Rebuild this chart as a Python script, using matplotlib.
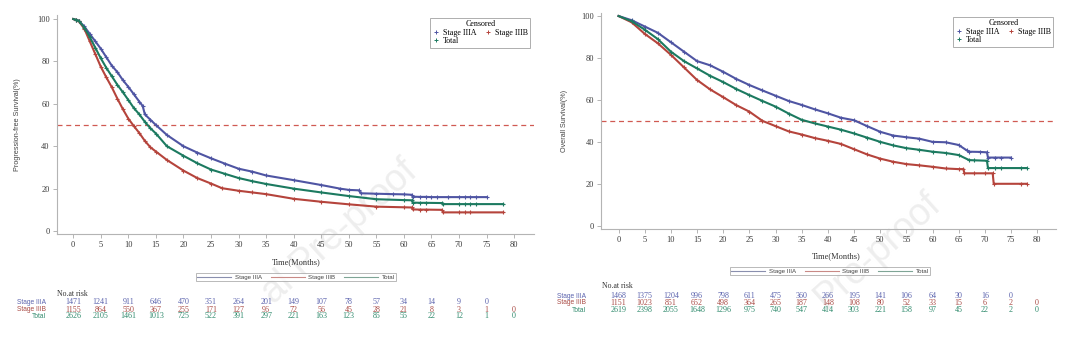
import matplotlib
matplotlib.use("Agg")
import matplotlib.pyplot as plt
from matplotlib.lines import Line2D
from matplotlib.transforms import blended_transform_factory

# ---------------- data ----------------
groups = ["Stage IIIA", "Stage IIIB", "Total"]
risk_times = [0, 5, 10, 15, 20, 25, 30, 35, 40, 45, 50, 55, 60, 65, 70, 75, 80]

# Progression-free survival curves (months, %)
pfs_a_t = [0, 0.5, 1, 2, 3, 4, 5, 6, 7, 8, 9, 10, 11, 12, 12.6, 13, 14, 15, 17, 20, 22.5, 25,
           27.5, 30, 32.5, 35, 40, 45, 48.4, 50, 51.8, 52.2, 55, 58, 60, 61.4, 61.6, 63, 64,
           65, 66, 68, 70, 71, 72, 73, 75]
pfs_a_s = [100, 99.6, 99.2, 96.5, 93, 89.5, 86, 82, 78, 75, 71.2, 68, 64.5, 61, 59, 55, 52.5, 50,
           45.3, 40, 37, 34.3, 31.8, 29.4, 28, 26.2, 24, 21.7, 20, 19.4, 19.2, 17.8, 17.6, 17.4,
           17.3, 17.1, 16.2, 16.1, 16.1, 16.0, 16.0, 16.0, 16.0, 16.0, 16.0, 16.0, 16.0]
pfs_b_t = [0, 0.5, 1, 2, 3, 4, 5, 6, 7, 8, 9, 10, 11, 12, 13, 14, 15, 17, 20, 22.5, 25, 27, 30,
           32.5, 35, 40, 45, 50, 55, 60, 61.4, 61.6, 63, 64, 66.9, 67.1, 70, 71, 72, 78]
pfs_b_s = [100, 99.5, 99, 95.5, 89.5, 83.5, 77.5, 72.5, 67.8, 62.5, 57.5, 53, 49.5, 46.2, 42.5,
           39.5, 37.5, 33.5, 28.5, 25, 22.4, 20.2, 19, 18.2, 17.4, 15.2, 13.8, 12.6, 11.5, 11.2,
           11.1, 10.2, 10.1, 10.1, 10.0, 8.8, 8.8, 8.8, 8.8, 8.8]
pfs_t_t = [0, 0.5, 1, 2, 3, 4, 5, 6, 7, 8, 9, 10, 11, 12, 13, 14, 15, 17, 20, 22.5, 25, 27.5, 30,
           32.5, 35, 40, 45, 50, 55, 60, 61.4, 61.6, 63, 64, 66.9, 67.1, 70, 71, 72, 73, 78]
pfs_t_s = [100, 99.6, 99.2, 96, 91.5, 86.5, 81.5, 77, 73, 69, 65.5, 61.8, 58, 55, 51.5, 48.5, 46,
           40, 35.5, 32, 29, 27, 25, 23.5, 22.2, 20, 18.2, 16.5, 15, 14.6, 14.5, 13.4, 13.3,
           13.3, 13.2, 12.7, 12.7, 12.7, 12.7, 12.7, 12.7]

# Overall survival curves (months, %)
os_a_t = [0, 2.5, 5, 7.5, 10, 12.5, 15, 17.5, 20, 22.5, 25, 27.5, 30, 32.5, 35, 37.5, 40, 42.5,
          45, 47.5, 50, 52.5, 55, 57.5, 60, 62.5, 65, 66.5, 67, 69, 70.4, 70.6, 72, 73, 75]
os_a_s = [100, 98, 95, 92, 87.5, 83, 78.5, 76.5, 73.4, 70, 67.1, 64.5, 62, 59.5, 57.6, 55.5,
          53.6, 51.5, 50.3, 47.5, 44.8, 43, 42.2, 41.5, 40, 39.8, 38.5, 36, 35.3, 35.2, 35.0,
          32.5, 32.5, 32.5, 32.5]
os_b_t = [0, 2.5, 5, 7.5, 10, 12.5, 15, 17.5, 20, 22.5, 25, 27.5, 30, 32.5, 35, 37.5, 40, 42.5,
          45, 47.5, 50, 52.5, 55, 57.5, 60, 62.5, 65, 65.9, 66.1, 68, 70, 71.5, 71.7, 77, 78]
os_b_s = [100, 97, 91.5, 87, 81.5, 75.5, 69.5, 65, 61.3, 57.5, 54.4, 50, 47.5, 45, 43.5, 41.8,
          40.5, 39, 36.5, 34, 32, 30.5, 29.4, 28.8, 28.1, 27.3, 27, 27, 25, 25, 25, 25, 20, 20, 20]
os_t_t = [0, 2.5, 5, 7.5, 10, 12.5, 15, 17.5, 20, 22.5, 25, 27.5, 30, 32.5, 35, 37.5, 40, 42.5,
          45, 47.5, 50, 52.5, 55, 57.5, 60, 62.5, 65, 67, 68, 70.4, 70.6, 72, 73, 77, 78]
os_t_s = [100, 97.5, 93.5, 89, 83, 78.5, 75, 71.5, 68.5, 65.2, 62.3, 59.5, 56.8, 53.5, 50.5,
          48.8, 47.3, 45.8, 44, 42, 40, 38.3, 37, 36.2, 35.3, 34.7, 33.7, 31.3, 31.2, 31.0,
          27.5, 27.5, 27.5, 27.5, 27.5]

# Numbers at risk
pfs_risk_a = [1471, 1241, 911, 646, 470, 351, 264, 201, 149, 107, 78, 57, 34, 14, 9, 0]
pfs_risk_b = [1155, 864, 550, 367, 255, 171, 127, 96, 72, 56, 45, 28, 21, 8, 3, 1, 0]
pfs_risk_t = [2626, 2105, 1461, 1013, 725, 522, 391, 297, 221, 163, 123, 85, 55, 22, 12, 1, 0]
os_risk_a = [1468, 1375, 1204, 996, 798, 611, 475, 360, 266, 195, 141, 106, 64, 30, 16, 0]
os_risk_b = [1151, 1023, 851, 652, 498, 364, 265, 187, 148, 108, 80, 52, 33, 15, 6, 2, 0]
os_risk_t = [2619, 2398, 2055, 1648, 1296, 975, 740, 547, 414, 303, 221, 158, 97, 45, 22, 2, 0]

# ---------------- style ----------------
colors = {"Stage IIIA": "#4f55a3", "Stage IIIB": "#b5443c", "Total": "#1c7a60"}
txt_colors = {"Stage IIIA": "#5a62ad", "Stage IIIB": "#a94a44", "Total": "#2f8a6c"}
legend_line_colors = {"Stage IIIA": "#8a8fae", "Stage IIIB": "#c98a86", "Total": "#7fa596"}
SERIF = ["Liberation Serif", "DejaVu Serif"]
SANS = ["Liberation Sans", "DejaVu Sans"]
AX_GREY = "#b4b4b4"

W, H = 1080, 342
fig = plt.figure(figsize=(W / 100, H / 100), dpi=100)
fig.patch.set_facecolor("white")


def fx(px):
    return px / W


def fy(py):
    return 1 - py / H


# faint watermark, drawn underneath everything else
for cx, cy, txt in [(340, 232, "al Pre-proof"), (878, 250, "Pre-proof")]:
    fig.text(fx(cx), fy(cy), txt, size=27, color="#eeeeee",
             rotation=42, ha="center", va="center", zorder=-5, family=SANS)


def make_axes(left, right, top, bottom, xlim, ylim):
    ax = fig.add_axes([fx(left), fy(bottom), (right - left) / W, (bottom - top) / H])
    ax.set_xlim(*xlim)
    ax.set_ylim(*ylim)
    for s in ("top", "right"):
        ax.spines[s].set_visible(False)
    for s in ("left", "bottom"):
        ax.spines[s].set_color(AX_GREY)
        ax.spines[s].set_linewidth(0.8)
    ax.set_xticks(risk_times)
    ax.set_yticks([0, 20, 40, 60, 80, 100])
    ax.tick_params(direction="out", length=3, width=0.7, color=AX_GREY,
                   labelsize=6.0, labelcolor="#3a3a3a", pad=2)
    for lab in ax.get_xticklabels() + ax.get_yticklabels():
        lab.set_family(SERIF)
    ax.patch.set_visible(False)
    return ax


def draw_curves(ax, curves):
    for name, (t, s) in curves.items():
        ax.plot(t, s, color=colors[name], lw=1.5, marker="+", ms=3.4, mew=0.8,
                markevery=slice(1, None), zorder=3, solid_joinstyle="miter")
    ax.axhline(50, color="#d05a52", lw=0.9, ls=(0, (4, 3)), zorder=2)


def top_legend(right_px, top_px):
    handles = [Line2D([], [], ls="none", marker="+", ms=3.5, mew=0.7, color=colors[g])
               for g in ("Stage IIIA", "Total", "Stage IIIB")]
    leg = fig.legend(handles, ["Stage IIIA", "Total", "Stage IIIB"], ncol=2,
                     loc="upper right", bbox_to_anchor=(fx(right_px), fy(top_px)),
                     title="Censored", prop={"family": SERIF, "size": 5.8},
                     title_fontproperties={"family": SERIF, "size": 5.8},
                     frameon=True, fancybox=False, edgecolor="#9a9a9a",
                     borderpad=0.3, handlelength=0.8, handletextpad=0.4,
                     columnspacing=1.1, labelspacing=0.05, borderaxespad=0)
    leg.get_frame().set_linewidth(0.7)


def bottom_legend(cx, cy):
    handles = [Line2D([], [], color=legend_line_colors[g], lw=0.8) for g in groups]
    leg = fig.legend(handles, groups, ncol=3, loc="center",
                     bbox_to_anchor=(fx(cx), fy(cy)),
                     prop={"family": SANS, "size": 4.4}, frameon=True, fancybox=False,
                     edgecolor="#9a9a9a", borderpad=0.2, handlelength=5.6,
                     handletextpad=0.6, columnspacing=1.4, borderaxespad=0)
    leg.get_frame().set_linewidth(0.6)
    for t in leg.get_texts():
        t.set_color("#444444")


def risk_table(ax, label_px, title_px, title_py, rows_py, risks):
    tr = blended_transform_factory(ax.transData, fig.transFigure)
    fig.text(fx(title_px), fy(title_py), "No.at risk", family=SERIF, size=5.6,
             color="#333333", va="center", ha="left")
    for name, py, vals in zip(groups, rows_py, risks):
        fig.text(fx(label_px), fy(py), name, family=SANS, size=4.8,
                 color=txt_colors[name], ha="right", va="center")
        for t, v in zip(risk_times, vals):
            ax.text(t, fy(py), str(v), transform=tr, family=SERIF, size=5.8,
                    color=txt_colors[name], ha="center", va="center", clip_on=False)


# ---------------- left: progression-free survival ----------------
ax1 = make_axes(56.7, 534, 15, 234, (-3.0, 83.6), (-1.4, 101.9))
draw_curves(ax1, {"Stage IIIA": (pfs_a_t, pfs_a_s),
                  "Stage IIIB": (pfs_b_t, pfs_b_s),
                  "Total": (pfs_t_t, pfs_t_s)})
ax1.set_ylabel("Progression-free Survival(%)", family=SANS, size=5.2, color="#444444")
ax1.yaxis.set_label_coords((21 - 56.7) / (534 - 56.7), 0.5)
fig.text(fx(296), fy(262), "Time(Months)", family=SERIF, size=6.0, color="#333333",
         ha="center", va="center")
top_legend(530, 18)
bottom_legend(296, 277)
risk_table(ax1, 46, 57, 294, [302.5, 309.5, 316.5], [pfs_risk_a, pfs_risk_b, pfs_risk_t])

# ---------------- right: overall survival ----------------
ax2 = make_axes(601.3, 1056, 13.3, 229.3, (-3.3, 83.6), (-1.7, 101.3))
draw_curves(ax2, {"Stage IIIA": (os_a_t, os_a_s),
                  "Stage IIIB": (os_b_t, os_b_s),
                  "Total": (os_t_t, os_t_s)})
ax2.set_ylabel("Overall Survival(%)", family=SANS, size=5.2, color="#444444")
ax2.yaxis.set_label_coords((568 - 601.3) / (1056 - 601.3), 0.5)
fig.text(fx(836), fy(256), "Time(Months)", family=SERIF, size=6.0, color="#333333",
         ha="center", va="center")
top_legend(1053, 17)
bottom_legend(830, 271)
risk_table(ax2, 586, 602, 286, [296, 303, 310], [os_risk_a, os_risk_b, os_risk_t])

fig.savefig("out.png", dpi=100, facecolor="white")
